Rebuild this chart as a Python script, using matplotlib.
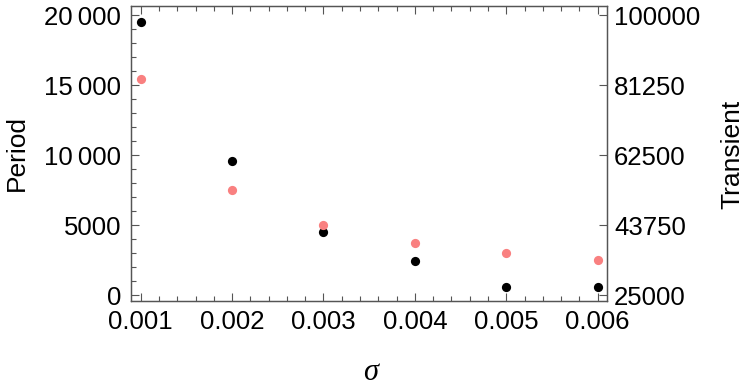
import matplotlib
matplotlib.use("Agg")
import matplotlib.pyplot as plt
from matplotlib.ticker import FixedLocator, MultipleLocator, FuncFormatter

sigma = [0.001, 0.002, 0.003, 0.004, 0.005, 0.006]
period = [19550, 9620, 4500, 2450, 600, 560]
transient = [83000, 53200, 43800, 39000, 36250, 34400]

left_ticks = [0, 5000, 10000, 15000, 20000]
right_ticks = [25000, 43750, 62500, 81250, 100000]
x_ticks = [0.001, 0.002, 0.003, 0.004, 0.005, 0.006]

plt.rcParams['font.family'] = ['Liberation Sans', 'DejaVu Sans']
spine_col = '#555555'
fs = 18.5

fig = plt.figure(figsize=(7.5, 3.88), dpi=100)
ax = fig.add_axes([131/750, 1-300.7/388, (607.3-131)/750, (300.7-6)/388])
ax2 = ax.twinx()

ax.scatter(sigma, period, s=44, color='black', zorder=3, linewidths=0)
ax2.scatter(sigma, transient, s=44, color='#F98080', zorder=3, linewidths=0)

ax.set_xlim(0.000894, 0.006105)
ylo, yhi = -386, 20664
ax.set_ylim(ylo, yhi)
ax2.set_ylim(25000 + 3.75*ylo, 25000 + 3.75*yhi)

def left_fmt(v, pos):
    v = int(round(v))
    if v >= 10000:
        s = f"{v:d}"
        return s[:-3] + '\u2009' + s[-3:]
    return f"{v:d}"

ax.yaxis.set_major_locator(FixedLocator(left_ticks))
ax.yaxis.set_minor_locator(MultipleLocator(1000))
ax.yaxis.set_major_formatter(FuncFormatter(left_fmt))
ax.xaxis.set_major_locator(FixedLocator(x_ticks))
ax.xaxis.set_minor_locator(MultipleLocator(0.0002))
ax.xaxis.set_major_formatter(FuncFormatter(lambda v, p: f"{v:.3f}"))
ax2.yaxis.set_major_locator(FixedLocator(right_ticks))
ax2.yaxis.set_major_formatter(FuncFormatter(lambda v, p: f"{int(round(v))}"))

ax.tick_params(axis='both', which='both', direction='in', color=spine_col, width=0.8)
ax.tick_params(axis='x', which='both', top=True)
ax.tick_params(axis='x', which='major', length=6, pad=6.5, labelsize=fs)
ax.tick_params(axis='x', which='minor', length=3.5)
ax.tick_params(axis='y', which='major', length=6, pad=7, labelsize=fs, right=False)
ax.tick_params(axis='y', which='minor', length=3.5, right=False)
ax2.tick_params(axis='y', which='major', direction='in', length=6, pad=5, labelsize=fs, color=spine_col, width=0.8)
ax2.tick_params(axis='y', which='minor', right=False)

for a in (ax, ax2):
    for sp in a.spines.values():
        sp.set_color(spine_col)
        sp.set_linewidth(0.9)

ax.set_ylabel('Period', fontsize=19)
ax.yaxis.set_label_coords(-0.24, 0.5)
ax2.set_ylabel('Transient', fontsize=19, rotation=90)
ax2.yaxis.set_label_coords(1.262, 0.497)
ax.yaxis.label.set_va('center')
ax2.yaxis.label.set_va('center')
ax.set_xlabel('σ', fontsize=22, fontstyle='italic', family=['Liberation Serif', 'DejaVu Serif'])
ax.xaxis.label.set_va('center')
ax.xaxis.set_label_coords(0.502, -0.243)

fig.savefig('out.png', dpi=100)
